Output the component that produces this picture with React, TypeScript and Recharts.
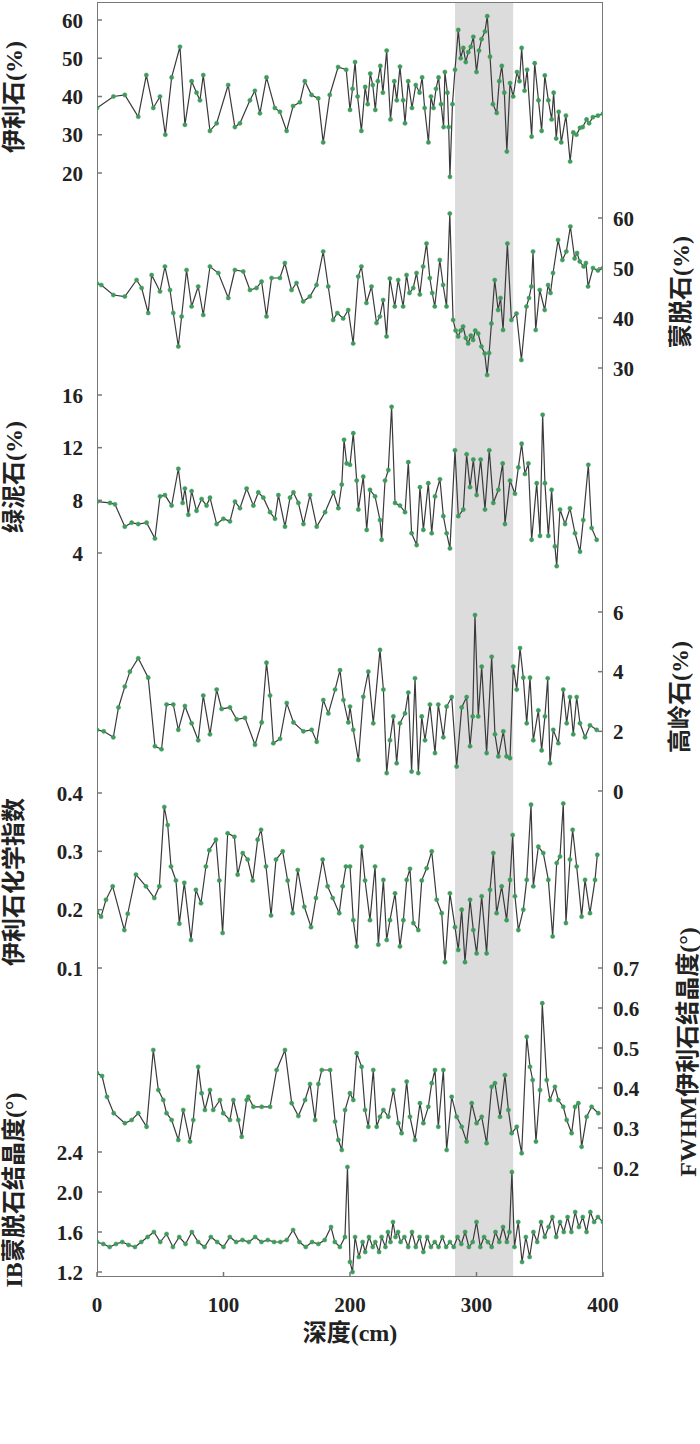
import React from 'react';
import { ComposedChart, Line, XAxis, YAxis, ReferenceArea } from 'recharts';

// ---------- data ----------
const depthTicks = [0, 100, 200, 300, 400];
const bandRange = [283, 329];

const illiteDepth = [0, 13, 22, 32.6, 39, 44.5, 49.8, 54, 59, 65.6, 69.5, 74.8, 78.7, 81.4, 84, 89.3, 94.6, 103.7, 109, 113, 120.9, 124.8, 128.8, 134, 140.6, 144.6, 149.9, 155, 160.4, 164.3, 169.6, 174.9, 178.8, 184, 190.6, 197,
  200, 202, 204, 206, 209, 212, 214, 216, 218, 220, 222, 224, 226, 229, 232, 235, 237, 239.5, 242, 243.5, 246, 249, 252, 255, 257, 259, 262, 264, 266, 268, 270, 272, 274, 275, 277, 278, 279, 281, 283, 285.6, 287.5, 289.6, 291.5, 293.5, 295.5, 297.5, 300, 302, 304, 306.7, 308.5, 310.7, 313, 316, 318, 320, 322, 324, 326.5, 329, 332, 334, 335.7, 338, 340, 343.6, 346, 349, 351.5, 354, 356.8, 359.4, 361, 363, 365, 367, 370.7, 374, 376.5, 379, 381.8, 384, 387, 389, 392, 396, 400];
const illiteVal = [37, 40, 40.4, 34.7, 45.6, 37, 40, 30, 45, 53, 32.6, 44, 41, 39, 45.6, 31, 33, 43, 32, 33, 39, 41.5, 35.6, 45, 37, 36, 31, 37.5, 38.5, 44, 40.4, 39.5, 28, 40.4, 47.7, 47,
  36.5, 42, 49, 40, 31, 42.5, 38, 46, 43, 36.5, 44, 48, 41, 52, 34, 44, 39, 47.8, 39, 33, 44, 37, 43, 41, 45, 37, 28, 40, 37, 42, 45, 38, 32, 46.4, 41, 32, 19, 38, 47, 57.4, 50, 52.7, 49, 51.6, 53, 55.6, 46.4, 52, 55, 57, 61, 50.4, 38, 35.7, 44, 48, 41, 25.6, 43.5, 40, 46.4, 44, 52.7, 41.5, 47, 29.5, 48.7, 39, 31, 45.5, 39, 34, 41, 29, 36, 28, 35, 23, 30.6, 30, 31.8, 32, 34, 33, 34.6, 35, 35.5];

const smectiteDepth = [0, 3.4, 12.9, 22, 31.3, 35.3, 40.5, 43.2, 49.8, 53.7, 57.7, 60.3, 64.3, 66.9, 70.8, 74.8, 80, 84, 89.3, 95.9, 103.8, 109, 115.6, 120.9, 126.1, 130.1, 134, 138, 144.6, 148.5, 153.8, 157.7, 163, 168.3, 173.5, 178.8, 182.8, 186.7, 190, 194.6, 198.6,
  202.5, 206.5, 209, 213, 217, 221, 223.6, 226.2, 228.9, 231.5, 235.4, 238.1, 242, 244.7, 247, 250, 252.6, 255.2, 257.8, 260.5, 263.1, 265, 267, 271, 273.6, 276.3, 278.9, 281.5, 283.5, 285.5, 287.5, 289.4, 291.5, 293.4, 295.5, 297.3, 299, 301.3, 303.9, 306.5, 308.4, 310, 311.8, 314.4, 317.1, 319, 321, 324.4, 327.6, 331.6, 335.5, 339.5, 341.5, 343.4, 344.7, 346.8, 350, 353.9, 356.6, 358.5, 360.5, 364.5, 367.9, 371, 374.2, 377.6, 379.5, 381.6, 384.7, 386.5, 388.2, 392.1, 396, 400];
const smectiteVal = [46.9, 46.6, 44.6, 44.3, 47.6, 46, 41, 48.6, 45.3, 50.3, 45.6, 41, 34.3, 40.3, 49.6, 42.3, 46.3, 40.6, 50.3, 49, 44, 49.6, 49.3, 45.6, 46, 47.3, 40.3, 48, 48, 51, 45.6, 47, 43.3, 44.3, 46.6, 53.3, 46.3, 39.6, 41, 39.9, 41.6,
  34.9, 48.3, 50.3, 43, 46.3, 39, 40.3, 43.6, 36.3, 47.9, 42.3, 47.6, 42.3, 48.6, 45, 46, 49, 44.7, 50.3, 54.9, 48, 45, 42.3, 51.6, 46.6, 42.3, 60.9, 39.6, 37.5, 36.3, 37.5, 38.3, 36, 34.9, 36.5, 35.6, 37.5, 36.9, 34.3, 32.9, 28.6, 33, 38.9, 47.6, 41.6, 44, 37.6, 54.9, 39.6, 40.9, 31.6, 42.3, 44, 46.3, 53.3, 37.6, 45.6, 41.6, 46.6, 45, 49, 55.6, 51.6, 53.3, 58.3, 51.9, 53, 51.3, 50.3, 51, 46.3, 50, 49.5, 50];

const chloriteDepth = [0, 10.3, 14.2, 22, 27.4, 32.6, 39.2, 45.8, 49.8, 53.7, 59, 64.3, 67.7, 69.5, 72.2, 74.8, 78.7, 82.7, 86.6, 89.3, 94.6, 99.9, 105.1, 109.1, 113, 118.3, 123.6, 127.5, 131.5, 136.8, 140.7, 143.4, 148.6, 152.6, 155.3, 159.2, 163.2, 168.4, 173.7, 180.3, 186.9, 190.8, 193.5, 195.3, 197.4,
  200, 202.6, 205.3, 206.6, 210.5, 213.2, 215.8, 219.8, 223.7, 225, 227.7, 230.3, 232.9, 235.6, 239.5, 243.5, 246.1, 248.7, 252.7, 255.3, 258, 261.9, 264.6, 267.2, 271.1, 273.8, 276.4, 279, 283, 285.6, 289.6, 292.2, 294.9, 297.5, 300.1, 303.3, 306.7, 310.1, 313.3, 317.3, 320.7, 322.5, 326.5, 330.4, 333.1, 335.7, 338.3, 341, 343.6, 347.6, 350.2, 352.3, 354.1, 356.8, 359.4, 362, 363.4, 366, 370, 373.9, 377.9, 381.8, 384.4, 388.4, 391, 395];
const chloriteVal = [7.9, 7.8, 7.7, 6.0, 6.3, 6.2, 6.3, 5.1, 8.3, 8.4, 7.6, 10.4, 7.8, 8.9, 6.9, 8.7, 7.2, 8.1, 7.6, 8.2, 6.2, 6.6, 6.4, 7.9, 7.4, 8.9, 7.6, 8.6, 8.2, 7.1, 6.6, 8.4, 6.0, 8.2, 8.6, 7.8, 6.2, 8.4, 6.0, 7.1, 8.6, 7.4, 9.2, 12.6, 10.8,
  10.7, 13.1, 9.5, 7.3, 9.8, 5.75, 8.8, 8.3, 6.5, 5.0, 9.5, 10.3, 15.1, 7.8, 7.6, 7.1, 10.9, 5.5, 4.6, 9.0, 5.75, 9.3, 5.5, 8.3, 9.6, 6.8, 5.5, 4.35, 11.8, 6.8, 7.3, 11.5, 9.0, 11.1, 8.4, 11.1, 7.3, 11.8, 7.8, 8.8, 10.8, 6.2, 9.5, 8.5, 10.5, 12.3, 10, 10.8, 5.0, 9.3, 5.3, 14.5, 9.3, 5.3, 8.8, 4.5, 3.0, 7.3, 6.2, 7.4, 5.5, 4.1, 6.5, 10.7, 5.9, 5.0];

const kaoliniteDepth = [0, 5.3, 12.9, 17, 22, 26, 32.6, 40.5, 45.8, 51, 55, 60.3, 64.3, 69.5, 74.8, 80, 84, 89.3, 94.6, 98.5, 105.1, 110.4, 117, 124.9, 130.2, 134, 136.8, 139.4, 144.7, 150, 155.3, 163.2, 169.7, 173.7, 178.9, 182.9, 188.2, 192.1, 194.8, 198.7,
  200, 202.6, 206.6, 210.5, 214.5, 218.4, 223.7, 226.4, 229, 231.6, 234.3, 236.9, 239.5, 243.5, 246.1, 248.7, 251.4, 254, 256.7, 259.3, 263.2, 267.2, 269.8, 273.8, 276.4, 280.4, 284.3, 288.3, 292.2, 294.9, 297, 298.8, 301.4, 304.1, 308, 312, 314.6, 317.3, 321.2, 323.8, 326.5, 329.1, 331.8, 334.4, 337, 339.7, 342.3, 344.9, 348.9, 351.5, 354.1, 356.3, 358.1, 360.7, 364.7, 368.6, 371.3, 373.9, 376.5, 379.2, 381.8, 385.8, 389.7, 395];
const kaoliniteVal = [2.05, 2.0, 1.8, 2.8, 3.5, 4.0, 4.45, 3.8, 1.5, 1.4, 2.9, 2.9, 2.05, 2.85, 2.27, 1.7, 3.2, 1.9, 3.4, 2.75, 2.8, 2.4, 2.45, 1.55, 2.3, 4.3, 3.2, 1.6, 1.75, 2.95, 2.3, 2.0, 2.05, 1.65, 3.05, 2.6, 3.4, 4.05, 3.05, 2.3,
  2.83, 2.05, 1.04, 3.16, 4.0, 2.27, 4.73, 3.4, 0.6, 1.7, 2.5, 0.93, 2.27, 2.6, 3.3, 0.65, 3.78, 0.6, 2.5, 1.7, 2.9, 1.27, 2.9, 1.8, 2.83, 3.15, 0.82, 2.8, 3.15, 1.5, 2.5, 5.9, 2.5, 4.17, 1.27, 4.5, 1.9, 1.16, 2.0, 1.16, 1.1, 4.17, 3.4, 4.79, 3.8, 2.27, 3.8, 1.7, 2.7, 1.36, 2.5, 3.78, 0.93, 2.05, 1.6, 3.4, 2.27, 3.15, 1.9, 3.15, 2.27, 1.8, 2.2, 2.05];

const icDepth = [0, 3.2, 7.1, 12.4, 21.6, 24.3, 30.8, 38.7, 45.3, 49.3, 53.2, 55.9, 58.5, 62.4, 65.1, 69, 74.3, 78.2, 82.2, 86.1, 88.8, 94, 96.7, 99.3, 103.3, 108.6, 111.2, 115.2, 119.1, 123.1, 127, 129.7, 133.6, 137.6, 141.5, 146.8, 150.7, 154.7, 158.7, 163.9, 169.2, 173.1, 178.4, 182.3, 186.3, 191.5, 194.2, 196.8,
  200, 202.6, 205.3, 209.2, 211.9, 215.8, 219.8, 222.4, 226.4, 229, 231.6, 235.6, 239.5, 242.2, 244.8, 247.4, 250.1, 254, 256.7, 260.6, 264.6, 268.5, 272.5, 275.1, 279, 283, 285.6, 288.3, 290.9, 294.9, 297.5, 300.1, 304.1, 308, 310.7, 313.3, 315.9, 319.9, 323.8, 326.5, 328.6, 330.4, 333.1, 337, 339.7, 343.1, 344.9, 348.9, 352.8, 356.8, 360.2, 363.4, 366, 368.6, 370.7, 373.9, 376, 379.2, 383.1, 385.8, 389.7, 393.7, 395.5];
const icVal = [0.197, 0.188, 0.217, 0.24, 0.165, 0.193, 0.26, 0.24, 0.22, 0.24, 0.376, 0.345, 0.274, 0.25, 0.176, 0.246, 0.148, 0.234, 0.211, 0.274, 0.302, 0.32, 0.25, 0.16, 0.331, 0.325, 0.26, 0.297, 0.286, 0.25, 0.32, 0.337, 0.274, 0.19, 0.286, 0.3, 0.25, 0.194, 0.268, 0.205, 0.17, 0.22, 0.286, 0.24, 0.22, 0.194, 0.24, 0.274,
  0.274, 0.182, 0.137, 0.308, 0.25, 0.182, 0.274, 0.14, 0.251, 0.148, 0.182, 0.228, 0.137, 0.182, 0.251, 0.27, 0.177, 0.165, 0.25, 0.271, 0.3, 0.217, 0.194, 0.11, 0.228, 0.17, 0.131, 0.2, 0.11, 0.217, 0.165, 0.125, 0.223, 0.125, 0.234, 0.297, 0.194, 0.24, 0.182, 0.251, 0.328, 0.223, 0.165, 0.2, 0.251, 0.38, 0.24, 0.308, 0.297, 0.251, 0.154, 0.28, 0.291, 0.382, 0.177, 0.286, 0.337, 0.274, 0.188, 0.251, 0.194, 0.251, 0.294];

const fwhmDepth = [0, 4, 7.9, 13.2, 22, 27.4, 32.6, 39.2, 44.5, 48.5, 52.4, 55, 59, 64.3, 68.2, 73.5, 76.1, 80, 82.7, 85.3, 89.3, 91.9, 97.2, 99.8, 105.1, 107.8, 111.7, 114.4, 118.3, 119.6, 123.6, 130.2, 136.8, 142, 148.6, 153.9, 159.2, 164.5, 168.4, 172.4, 175, 177.7, 184.3, 188.2, 190.8, 193.5, 196.1,
  200, 202.6, 205.3, 209.2, 211.9, 214.5, 218.4, 221.1, 223.7, 226.4, 230.3, 234.3, 238.2, 240.8, 244.8, 247.4, 251.4, 255.3, 258, 261.9, 264.6, 267.2, 269.8, 273.8, 276.4, 280.4, 284.3, 288.3, 292.2, 296.2, 300.1, 304.1, 308, 312, 314.6, 318.6, 322.5, 325.2, 327.8, 331.8, 335.7, 339.7, 342.3, 344.4, 347, 350.2, 352, 355.5, 358.1, 362, 364.7, 368.6, 371.3, 375.2, 377.9, 380.5, 383.1, 387.1, 391, 396.3];
const fwhmVal = [0.437, 0.43, 0.378, 0.337, 0.312, 0.32, 0.337, 0.303, 0.495, 0.395, 0.37, 0.337, 0.32, 0.27, 0.345, 0.266, 0.32, 0.453, 0.387, 0.345, 0.395, 0.345, 0.37, 0.337, 0.32, 0.37, 0.32, 0.278, 0.37, 0.378, 0.353, 0.353, 0.353, 0.445, 0.495, 0.362, 0.33, 0.37, 0.41, 0.32, 0.41, 0.445, 0.445, 0.316, 0.27, 0.245, 0.345,
  0.387, 0.37, 0.487, 0.453, 0.345, 0.303, 0.445, 0.303, 0.328, 0.345, 0.328, 0.395, 0.312, 0.287, 0.416, 0.328, 0.27, 0.362, 0.312, 0.353, 0.412, 0.445, 0.303, 0.445, 0.245, 0.378, 0.328, 0.303, 0.266, 0.362, 0.312, 0.328, 0.262, 0.403, 0.412, 0.328, 0.432, 0.345, 0.287, 0.303, 0.237, 0.528, 0.453, 0.42, 0.266, 0.395, 0.612, 0.42, 0.37, 0.403, 0.37, 0.353, 0.32, 0.287, 0.353, 0.362, 0.253, 0.328, 0.353, 0.337];

const ibDepth = [0, 5, 10, 15, 20, 25, 30, 35, 40, 45, 50, 55, 60, 65, 70, 75, 80, 85, 90, 95, 100, 105, 110, 115, 120, 125, 130, 135, 140, 145, 150, 155, 160, 165, 170, 175, 180, 185, 188, 192, 196, 198,
  200, 202, 204, 207, 210, 212, 215, 218, 220, 223, 225, 228, 230, 232, 234, 236, 238, 240, 243, 246, 249, 252, 255, 258, 261, 264, 267, 270, 273, 276, 279, 282, 285, 288, 291, 294, 297, 300, 303, 306, 309, 312, 315, 318, 321, 324, 326, 328, 330, 333, 336, 339, 342, 345, 348, 351, 354, 357, 360, 363, 366, 369, 372, 375, 378, 381, 384, 387, 390, 393, 396, 400];
const ibVal = [1.5, 1.48, 1.45, 1.48, 1.5, 1.47, 1.45, 1.5, 1.55, 1.6, 1.5, 1.58, 1.45, 1.55, 1.48, 1.6, 1.5, 1.45, 1.55, 1.5, 1.45, 1.55, 1.5, 1.52, 1.5, 1.55, 1.5, 1.52, 1.5, 1.5, 1.52, 1.62, 1.5, 1.45, 1.5, 1.48, 1.52, 1.65, 1.5, 1.45, 1.55, 2.25,
  1.3, 1.2, 1.55, 1.35, 1.5, 1.4, 1.55, 1.45, 1.5, 1.4, 1.55, 1.45, 1.6, 1.5, 1.7, 1.55, 1.6, 1.5, 1.55, 1.45, 1.6, 1.45, 1.55, 1.4, 1.55, 1.45, 1.5, 1.45, 1.55, 1.45, 1.5, 1.45, 1.55, 1.48, 1.6, 1.45, 1.5, 1.7, 1.45, 1.55, 1.5, 1.45, 1.6, 1.5, 1.65, 1.5, 1.6, 2.2, 1.45, 1.7, 1.3, 1.55, 1.35, 1.6, 1.5, 1.7, 1.55, 1.65, 1.75, 1.55, 1.7, 1.6, 1.75, 1.6, 1.8, 1.65, 1.75, 1.6, 1.8, 1.7, 1.75, 1.7];

const ticksIllite = [20, 30, 40, 50, 60];
const ticksSmectite = [30, 40, 50, 60];
const ticksChlorite = [4, 8, 12, 16];
const ticksKaolinite = [0, 2, 4, 6];
const ticksIC = [0.1, 0.2, 0.3, 0.4];
const ticksFWHM = [0.2, 0.3, 0.4, 0.5, 0.6, 0.7];
const ticksIB = [1.2, 1.6, 2.0, 2.4];

// ---------- layout ----------
const W = 700;
const H = 1444;
const PLOT_TOP = 2;
const PLOT_BOTTOM = 1277;
const PLOT_LEFT = 97;
const PLOT_RIGHT = 603;
const N_LEFT = 4;
const N_RIGHT = 3;

const AXIS = '#777777';
const LINE = '#3a3a3a';
const GREEN = '#3e9b5b';
const BAND = '#dcdcdc';

const zip = (d: number[], v: number[]) => d.map((x, i) => ({ d: x, v: v[i] }));

function dom(vTop: number, yTop: number, vBot: number, yBot: number): [number, number] {
  const k = (vTop - vBot) / (yBot - yTop);
  return [vBot - (PLOT_BOTTOM - yBot) * k, vTop + (yTop - PLOT_TOP) * k];
}

const tickFont: React.CSSProperties = {
  fontFamily: "'Liberation Serif', 'Times New Roman', serif",
  fontSize: 21,
  fontWeight: 'bold',
  fill: '#222',
};

const makeTick = (side: 'left' | 'right', dec: number) => (props: any) => {
  const { y, payload } = props;
  const label = dec ? Number(payload.value).toFixed(dec) : String(payload.value);
  if (side === 'left') {
    return (
      <g>
        <line x1={PLOT_LEFT} x2={PLOT_LEFT + 5} y1={y} y2={y} stroke={AXIS} strokeWidth={1.5} />
        <text x={PLOT_LEFT - 14} y={y} dy={7.5} textAnchor="end" style={tickFont}>{label}</text>
      </g>
    );
  }
  return (
    <g>
      <line x1={PLOT_RIGHT - 5} x2={PLOT_RIGHT} y1={y} y2={y} stroke={AXIS} strokeWidth={1.5} />
      <text x={PLOT_RIGHT + 10} y={y} dy={7.5} textAnchor="start" style={tickFont}>{label}</text>
    </g>
  );
};

const XTick = (props: any) => {
  const { x, payload } = props;
  return (
    <g>
      <line x1={x} x2={x} y1={PLOT_BOTTOM} y2={PLOT_BOTTOM - 5} stroke={AXIS} strokeWidth={1.5} />
      <text x={x} y={PLOT_BOTTOM + 35} textAnchor="middle" style={tickFont}>{payload.value}</text>
    </g>
  );
};

const titleFont: React.CSSProperties = {
  fontFamily: "'Liberation Serif', 'Noto Sans CJK SC', serif",
  fontSize: 24,
  fontWeight: 'bold',
  fill: '#222',
};

const titles = [
  { text: '伊利石(%)', x: 14, y: 97 },
  { text: '蒙脱石(%)', x: 681, y: 292 },
  { text: '绿泥石(%)', x: 14, y: 477 },
  { text: '高岭石(%)', x: 680, y: 697 },
  { text: '伊利石化学指数', x: 14, y: 882 },
  { text: 'FWHM伊利石结晶度(°)', x: 688, y: 1052 },
  { text: 'IB蒙脱石结晶度(°)', x: 14, y: 1190 },
];

export default function App() {
  const lineProps = {
    type: 'linear' as const,
    dataKey: 'v',
    stroke: LINE,
    strokeWidth: 1.2,
    dot: { r: 2.1, fill: GREEN, stroke: GREEN, strokeWidth: 0.5 },
    activeDot: false as const,
    isAnimationActive: false,
  };
  const yCommon = {
    type: 'number' as const,
    width: 1,
    allowDataOverflow: true,
    tickSize: 0,
    tickMargin: 0,
    tickLine: false,
    interval: 0 as const,
  };
  return (
    <div style={{ position: 'absolute', left: 0, top: 0, width: W, height: H, background: '#fff' }}>
      <ComposedChart
        width={W}
        height={H}
        margin={{ top: PLOT_TOP - 1, left: PLOT_LEFT - N_LEFT, right: W - PLOT_RIGHT - N_RIGHT, bottom: H - PLOT_BOTTOM - 1 }}
      >
        <XAxis
          dataKey="d"
          type="number"
          domain={[0, 400]}
          ticks={depthTicks}
          allowDataOverflow
          height={1}
          tickSize={0}
          tickMargin={0}
          interval={0}
          tickLine={false}
          axisLine={false}
          tick={XTick}
        />
        <XAxis
          xAxisId="top"
          orientation="top"
          dataKey="d"
          type="number"
          domain={[0, 400]}
          height={1}
          tick={false}
          tickLine={false}
          axisLine={false}
        />
        <YAxis {...yCommon} yAxisId="p1" orientation="left" domain={dom(60, 20, 20, 173)} ticks={ticksIllite} tick={makeTick('left', 0)} axisLine={false} />
        <YAxis {...yCommon} yAxisId="p2" orientation="right" domain={dom(60, 218, 30, 368)} ticks={ticksSmectite} tick={makeTick('right', 0)} axisLine={false} />
        <YAxis {...yCommon} yAxisId="p3" orientation="left" domain={dom(16, 395, 4, 553)} ticks={ticksChlorite} tick={makeTick('left', 0)} axisLine={false} />
        <YAxis {...yCommon} yAxisId="p4" orientation="right" domain={dom(6, 612, 0, 791)} ticks={ticksKaolinite} tick={makeTick('right', 0)} axisLine={false} />
        <YAxis {...yCommon} yAxisId="p5" orientation="left" domain={dom(0.4, 793, 0.1, 968)} ticks={ticksIC} tick={makeTick('left', 1)} axisLine={false} />
        <YAxis {...yCommon} yAxisId="p6" orientation="right" domain={dom(0.7, 968, 0.3, 1128)} ticks={ticksFWHM} tick={makeTick('right', 1)} axisLine={false} />
        <YAxis {...yCommon} yAxisId="p7" orientation="left" domain={dom(2.4, 1152, 1.2, 1272)} ticks={ticksIB} tick={makeTick('left', 1)} axisLine={false} />

        <ReferenceArea yAxisId="p1" x1={bandRange[0]} x2={bandRange[1]} fill={BAND} fillOpacity={1} stroke="none" ifOverflow="hidden" />
        <ReferenceArea yAxisId="p1" x1={0} x2={400} fill="none" stroke={AXIS} strokeWidth={2} ifOverflow="hidden" />

        <Line {...lineProps} yAxisId="p1" data={zip(illiteDepth, illiteVal)} name="伊利石" />
        <Line {...lineProps} yAxisId="p2" data={zip(smectiteDepth, smectiteVal)} name="蒙脱石" />
        <Line {...lineProps} yAxisId="p3" data={zip(chloriteDepth, chloriteVal)} name="绿泥石" />
        <Line {...lineProps} yAxisId="p4" data={zip(kaoliniteDepth, kaoliniteVal)} name="高岭石" />
        <Line {...lineProps} yAxisId="p5" data={zip(icDepth, icVal)} name="伊利石化学指数" />
        <Line {...lineProps} yAxisId="p6" data={zip(fwhmDepth, fwhmVal)} name="FWHM" />
        <Line {...lineProps} yAxisId="p7" data={zip(ibDepth, ibVal)} name="IB" />
      </ComposedChart>
      <svg width={W} height={H} style={{ position: 'absolute', left: 0, top: 0, pointerEvents: 'none' }}>
        {titles.map((t) => (
          <text
            key={t.text}
            x={t.x}
            y={t.y}
            transform={`rotate(-90 ${t.x} ${t.y})`}
            textAnchor="middle"
            dominantBaseline="central"
            style={titleFont}
          >
            {t.text}
          </text>
        ))}
        <text x={(PLOT_LEFT + PLOT_RIGHT) / 2} y={1341} textAnchor="middle" style={titleFont}>深度(cm)</text>
      </svg>
    </div>
  );
}
